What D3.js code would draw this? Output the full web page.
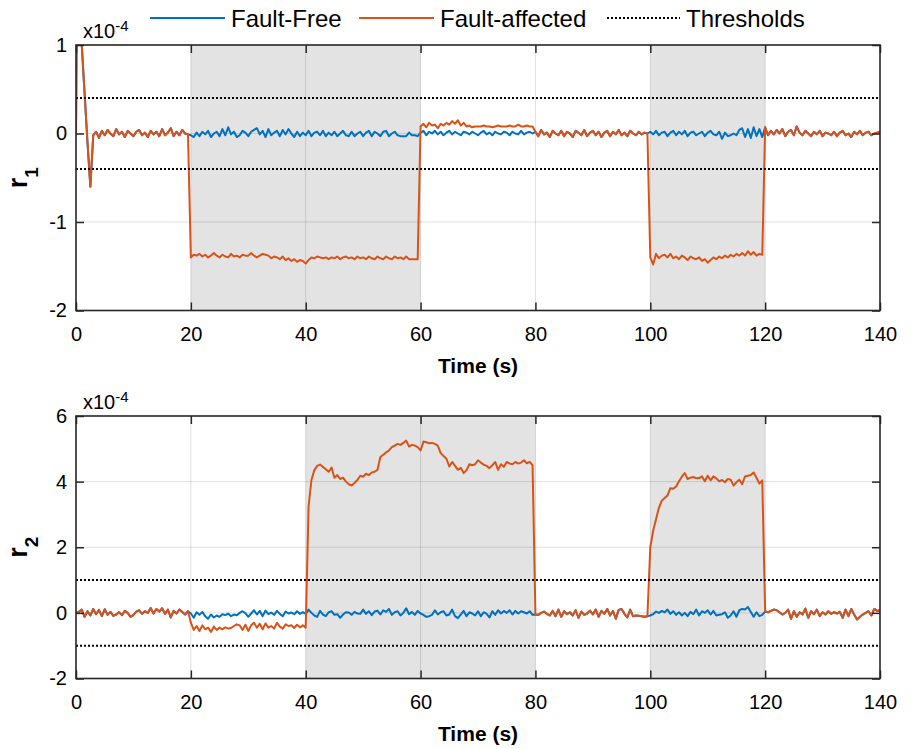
<!DOCTYPE html>
<html lang="en">

<head>
    <meta charset="utf-8">
    <script src='https://d3js.org/d3.v7.min.js'></script>
    <style>
        body { margin: 0; background: #fff; }
        text { font-family: "Liberation Sans", Arial, sans-serif; fill: #000; }
    </style>
</head>

<body>
    <script>
        // sample times, 0 .. 140 s every 0.5 s
        const time = d3.range(0, 281).map(i => i * 0.5);

        // residual r1, units of 1e-4
        const r1Free = [
            0, 5.0, 1.0, 0.45, -0.1, -0.6, -0.02, 0.02, -0.05, 0.03,
            -0.02, 0.04, 0.00, -0.03, 0.05, -0.01, 0.02, -0.04, 0.03, 0.00,
            -0.03, 0.02, 0.04, -0.02, 0.01, -0.04, 0.03, -0.01, 0.02, -0.03,
            0.05, -0.02, 0.01, 0.06, -0.03, 0.02, -0.02, 0.04, 0.00, -0.01,
            -0.02, -0.04, 0.01, -0.03, 0.02, -0.01, 0.03, -0.04, 0.00, 0.02,
            -0.03, 0.05, -0.02, 0.07, -0.01, 0.02, -0.04, -0.02, 0.03, 0.01,
            -0.03, 0.02, 0.04, 0.06, -0.01, 0.03, -0.04, 0.05, -0.02, 0.01,
            0.03, -0.03, 0.04, -0.01, 0.05, 0.00, -0.04, 0.02, -0.03, 0.01,
            -0.02, 0.03, -0.03, 0.01, 0.02, -0.02, 0.03, -0.03, 0.01, -0.02,
            0.02, -0.03, 0.00, 0.03, -0.02, -0.03, 0.02, -0.03, 0.00, 0.02,
            -0.03, 0.01, 0.03, -0.03, 0.02, 0.00, -0.03, 0.02, 0.03, -0.03,
            0.00, 0.02, -0.02, -0.03, -0.03, -0.03, 0.01, -0.02, -0.02, -0.03,
            0.01, 0.03, -0.02, 0.02, 0.00, 0.03, -0.01, 0.02, -0.02, 0.01,
            0.03, -0.01, 0.02, 0.00, -0.02, 0.02, 0.01, -0.01, 0.02, 0.00,
            -0.02, 0.01, 0.03, -0.01, 0.01, -0.02, 0.02, 0.00, -0.01, 0.02,
            0.01, -0.02, 0.02, 0.00, -0.01, 0.03, -0.01, 0.01, 0.02, 0.00,
            0.02, -0.03, 0.04, -0.01, 0.01, -0.04, 0.03, 0.00, -0.02, 0.03,
            -0.03, 0.02, 0.00, -0.04, 0.03, 0.01, -0.02, 0.04, -0.03, 0.01,
            0.03, -0.02, 0.02, -0.04, 0.01, 0.03, -0.03, 0.02, -0.01, 0.04,
            -0.02, 0.01, -0.03, 0.03, 0.00, -0.02, 0.02, -0.01, 0.01, 0.00,
            0.02, -0.01, 0.03, -0.02, 0.01, 0.02, -0.03, 0.01, 0.03, -0.02,
            0.02, -0.01, 0.03, -0.03, 0.01, 0.02, -0.02, 0.00, 0.02, -0.03,
            0.01, 0.03, -0.01, -0.02, 0.02, -0.06, 0.01, -0.03, -0.02, 0.00,
            -0.02, 0.04, 0.06, -0.04, 0.05, -0.05, 0.07, -0.03, 0.05, -0.04,
            0.07, -0.02, 0.03, -0.01, 0.04, 0.00, 0.05, -0.03, 0.02, 0.04,
            -0.02, 0.08, 0.01, -0.02, 0.03, 0.00, -0.03, 0.02, -0.01, 0.03,
            -0.03, 0.01, 0.00, -0.02, 0.02, -0.03, 0.01, 0.03, -0.02, 0.00,
            -0.04, 0.02, -0.01, 0.03, -0.02, 0.01, 0.02, -0.02, 0.00, 0.01, 0.02
        ];
        const r1Fault = [
            0, 5.0, 1.0, 0.45, -0.1, -0.6, -0.02, 0.02, -0.05, 0.03,
            -0.02, 0.04, 0.00, -0.03, 0.05, -0.01, 0.02, -0.04, 0.03, 0.00,
            -0.03, 0.02, 0.04, -0.02, 0.01, -0.04, 0.03, -0.01, 0.02, -0.03,
            0.05, -0.02, 0.01, 0.06, -0.03, 0.02, -0.02, 0.04, 0.00, -0.01,
            -1.40, -1.37, -1.38, -1.36, -1.39, -1.37, -1.40, -1.38, -1.35, -1.38,
            -1.40, -1.37, -1.39, -1.40, -1.36, -1.39, -1.38, -1.40, -1.37, -1.38,
            -1.38, -1.35, -1.38, -1.40, -1.38, -1.36, -1.37, -1.38, -1.41, -1.39,
            -1.40, -1.42, -1.39, -1.43, -1.41, -1.44, -1.42, -1.45, -1.43, -1.44,
            -1.47, -1.43, -1.40, -1.41, -1.39, -1.40, -1.41, -1.40, -1.42, -1.40,
            -1.41, -1.39, -1.42, -1.40, -1.39, -1.41, -1.40, -1.42, -1.39, -1.41,
            -1.40, -1.42, -1.39, -1.41, -1.42, -1.39, -1.41, -1.42, -1.39, -1.41,
            -1.42, -1.39, -1.41, -1.40, -1.42, -1.39, -1.42, -1.42, -1.42, -1.42,
            0.08, 0.11, 0.07, 0.12, 0.09, 0.10, 0.06, 0.11, 0.09, 0.12,
            0.10, 0.14, 0.11, 0.15, 0.09, 0.12, 0.08, 0.09, 0.07, 0.08,
            0.08, 0.08, 0.09, 0.08, 0.08, 0.07, 0.08, 0.09, 0.08, 0.08,
            0.08, 0.09, 0.08, 0.08, 0.10, 0.08, 0.08, 0.09, 0.08, 0.08,
            0.02, -0.03, 0.04, -0.01, 0.01, -0.04, 0.03, 0.00, -0.02, 0.03,
            -0.03, 0.02, 0.00, -0.04, 0.03, 0.01, -0.02, 0.04, -0.03, 0.01,
            0.03, -0.02, 0.02, -0.04, 0.01, 0.03, -0.03, 0.02, -0.01, 0.04,
            -0.02, 0.01, -0.03, 0.03, 0.00, -0.02, 0.02, -0.01, 0.01, 0.00,
            -1.40, -1.48, -1.36, -1.41, -1.38, -1.37, -1.40, -1.36, -1.41, -1.39,
            -1.42, -1.38, -1.40, -1.43, -1.39, -1.41, -1.42, -1.40, -1.44, -1.42,
            -1.46, -1.43, -1.40, -1.42, -1.39, -1.41, -1.38, -1.40, -1.37, -1.39,
            -1.36, -1.38, -1.35, -1.38, -1.33, -1.37, -1.34, -1.38, -1.36, -1.37,
            0.07, -0.02, 0.03, -0.01, 0.04, 0.00, 0.05, -0.03, 0.02, 0.04,
            -0.02, 0.08, 0.01, -0.02, 0.03, 0.00, -0.03, 0.02, -0.01, 0.03,
            -0.03, 0.01, 0.00, -0.02, 0.02, -0.03, 0.01, 0.03, -0.02, 0.00,
            -0.04, 0.02, -0.01, 0.03, -0.02, 0.01, 0.02, -0.02, 0.00, 0.01, 0.02
        ];

        // residual r2, units of 1e-4
        const r2Free = [
            0.00, 0.03, 0.10, -0.12, 0.05, -0.08, 0.12, -0.04, 0.09, -0.10,
            0.11, -0.06, 0.03, -0.09, -0.05, 0.02, -0.07, 0.06, 0.00, -0.12,
            -0.06, 0.04, 0.08, -0.03, 0.05, 0.00, 0.15, -0.02, 0.12, 0.04,
            0.14, -0.03, 0.10, -0.14, 0.06, -0.02, 0.10, 0.03, -0.05, 0.05,
            -0.02, -0.15, 0.02, -0.06, 0.03, -0.10, -0.18, -0.05, -0.14, -0.08,
            -0.12, -0.04, -0.07, -0.02, -0.10, -0.05, -0.07, 0.00, 0.05, -0.01,
            -0.12, -0.02, 0.08, -0.05, 0.06, -0.10, 0.07, -0.04, 0.01, -0.06,
            0.06, -0.03, -0.10, 0.04, -0.02, 0.01, -0.04, 0.05, -0.03, 0.02,
            -0.03, 0.10, 0.00, -0.08, -0.12, 0.06, -0.05, -0.10, 0.02, 0.05,
            -0.06, -0.04, -0.15, -0.05, 0.02, 0.01, -0.06, 0.03, -0.02, -0.03,
            0.10, -0.03, 0.05, -0.07, 0.04, 0.07, -0.05, 0.08, 0.03, 0.12,
            -0.06, 0.02, 0.05, -0.08, 0.00, 0.14, -0.04, 0.03, -0.06, 0.06,
            -0.02, -0.06, -0.12, -0.10, -0.06, 0.08, -0.05, 0.02, 0.05, -0.08,
            -0.05, 0.10, -0.10, -0.16, -0.05, 0.06, -0.10, 0.02, -0.02, -0.08,
            0.05, -0.10, 0.02, -0.03, -0.14, 0.05, -0.06, 0.08, -0.02, 0.06,
            0.00, 0.08, -0.05, 0.06, -0.02, 0.05, 0.02, -0.02, 0.05, -0.06,
            -0.05, -0.06, 0.00, 0.04, -0.03, -0.08, 0.06, -0.10, 0.10, -0.12,
            0.05, -0.04, 0.02, -0.08, 0.08, -0.15, 0.04, -0.06, -0.02, 0.07,
            -0.05, 0.10, -0.12, 0.06, -0.03, 0.12, -0.08, 0.06, -0.18, 0.09,
            0.12, -0.03, -0.14, 0.10, -0.10, -0.08, -0.09, -0.10, -0.12, -0.10,
            -0.08, -0.04, 0.04, 0.00, 0.06, 0.02, 0.10, -0.03, 0.05, -0.06,
            0.02, -0.08, 0.00, -0.10, 0.03, -0.04, 0.10, -0.08, 0.05, 0.00,
            0.08, -0.05, 0.06, -0.08, -0.06, -0.04, 0.02, -0.15, -0.08, 0.05,
            -0.12, 0.08, 0.12, 0.10, 0.18, 0.03, -0.12, 0.02, -0.10, -0.06,
            0.04, 0.02, 0.06, 0.10, 0.08, 0.02, -0.05, 0.00, 0.10, -0.18,
            0.05, -0.12, 0.02, -0.05, 0.13, -0.15, 0.05, -0.04, 0.10, -0.10,
            0.02, -0.05, 0.05, -0.03, 0.02, -0.02, 0.03, -0.15, 0.10, -0.10,
            0.12, -0.05, -0.20, -0.12, -0.05, 0.00, 0.05, -0.08, 0.12, 0.06, 0.08
        ];
        const r2Fault = [
            0.00, 0.03, 0.10, -0.12, 0.05, -0.08, 0.12, -0.04, 0.09, -0.10,
            0.11, -0.06, 0.03, -0.09, -0.05, 0.02, -0.07, 0.06, 0.00, -0.12,
            -0.06, 0.04, 0.08, -0.03, 0.05, 0.00, 0.15, -0.02, 0.12, 0.04,
            0.14, -0.03, 0.10, -0.14, 0.06, -0.02, 0.10, 0.03, -0.05, 0.05,
            -0.30, -0.52, -0.40, -0.55, -0.38, -0.50, -0.45, -0.58, -0.42, -0.52,
            -0.45, -0.50, -0.44, -0.48, -0.46, -0.40, -0.35, -0.38, -0.52, -0.36,
            -0.55, -0.38, -0.30, -0.45, -0.33, -0.50, -0.32, -0.45, -0.40, -0.48,
            -0.30, -0.42, -0.48, -0.35, -0.40, -0.38, -0.46, -0.36, -0.44, -0.38,
            -0.45, 3.25, 4.05, 4.35, 4.48, 4.52, 4.45, 4.38, 4.30, 4.43,
            4.12, 4.20, 4.08, 4.12, 4.00, 3.92, 3.88, 3.96, 4.05, 4.18,
            4.15, 4.24, 4.20, 4.28, 4.30, 4.36, 4.75, 4.82, 4.89, 4.95,
            5.05, 5.10, 5.15, 5.12, 5.18, 5.25, 5.07, 5.12, 5.10, 5.05,
            4.95, 5.22, 5.20, 5.17, 5.18, 5.15, 5.10, 4.87, 4.78, 4.70,
            4.46, 4.60, 4.48, 4.36, 4.42, 4.26, 4.35, 4.53, 4.50, 4.53,
            4.65, 4.58, 4.52, 4.48, 4.41, 4.50, 4.60, 4.36, 4.53, 4.45,
            4.60, 4.55, 4.53, 4.60, 4.55, 4.58, 4.65, 4.56, 4.60, 4.50,
            -0.05, -0.06, 0.00, 0.04, -0.03, -0.08, 0.06, -0.10, 0.10, -0.12,
            0.05, -0.04, 0.02, -0.08, 0.08, -0.15, 0.04, -0.06, -0.02, 0.07,
            -0.05, 0.10, -0.12, 0.06, -0.03, 0.12, -0.08, 0.06, -0.18, 0.09,
            0.12, -0.03, -0.14, 0.10, -0.10, -0.08, -0.09, -0.10, -0.12, -0.10,
            2.00, 2.50, 2.85, 3.20, 3.42, 3.50, 3.58, 3.80, 3.78, 3.85,
            4.01, 4.15, 4.26, 4.08, 4.12, 4.14, 4.10, 4.11, 4.16, 4.01,
            4.18, 4.04, 4.16, 4.10, 4.01, 4.05, 3.98, 4.08, 4.06, 3.88,
            3.98, 4.06, 3.92, 4.16, 4.18, 4.20, 4.28, 4.12, 3.94, 4.04,
            0.04, 0.02, 0.06, 0.10, 0.08, 0.02, -0.05, 0.00, 0.10, -0.18,
            0.05, -0.12, 0.02, -0.05, 0.13, -0.15, 0.05, -0.04, 0.10, -0.10,
            0.02, -0.05, 0.05, -0.03, 0.02, -0.02, 0.03, -0.15, 0.10, -0.10,
            0.12, -0.05, -0.20, -0.12, -0.05, 0.00, 0.05, -0.08, 0.12, 0.06, 0.08
        ];

        // fault windows (s), thresholds and ticks
        const r1Windows = [[20, 60], [100, 120]];
        const r2Windows = [[40, 80], [100, 120]];
        const r1Threshold = 0.4;
        const r2Threshold = 1;
        const xTicks = [0, 20, 40, 60, 80, 100, 120, 140];
        const r1Ticks = [-2, -1, 0, 1];
        const r2Ticks = [-2, 0, 2, 4, 6];
        const legendLabels = ["Fault-Free", "Fault-affected", "Thresholds"];

        const blue = "#0072BD";
        const orange = "#D95319";
        const axisColor = "#262626";

        const svg = d3.select("body")
            .append("svg")
            .attr("width", 911)
            .attr("height", 749);

        const left = 76, right = 880;
        // plain hyphen for negative numbers, like the original figure
        const fmt = d => String(d);

        function drawPanel(id, top, bottom, yTicks, windows, thr, free, fault, sub) {
            const x = d3.scaleLinear().domain([0, 140]).range([left, right]);
            const y = d3.scaleLinear().domain([yTicks[0], yTicks[yTicks.length - 1]]).range([bottom, top]);

            svg.append("clipPath").attr("id", id)
                .append("rect")
                .attr("x", left).attr("y", top)
                .attr("width", right - left).attr("height", bottom - top);

            const g = svg.append("g");

            // shaded fault windows
            g.selectAll(".win")
                .data(windows)
                .enter()
                .append("rect")
                .attr("x", d => x(d[0]))
                .attr("width", d => x(d[1]) - x(d[0]))
                .attr("y", top)
                .attr("height", bottom - top)
                .attr("fill", "#e3e3e3");

            // grid
            g.selectAll(".gx")
                .data(xTicks.slice(1, -1))
                .enter()
                .append("line")
                .attr("x1", d => x(d)).attr("x2", d => x(d))
                .attr("y1", top).attr("y2", bottom)
                .attr("stroke", axisColor).attr("stroke-opacity", 0.15).attr("stroke-width", 1);
            g.selectAll(".gy")
                .data(yTicks.slice(1, -1))
                .enter()
                .append("line")
                .attr("x1", left).attr("x2", right)
                .attr("y1", d => y(d)).attr("y2", d => y(d))
                .attr("stroke", axisColor).attr("stroke-opacity", 0.15).attr("stroke-width", 1);

            const line = d3.line()
                .x((d, i) => x(time[i]))
                .y(d => y(d));

            const plot = g.append("g").attr("clip-path", "url(#" + id + ")");
            plot.append("path")
                .datum(free)
                .attr("fill", "none")
                .attr("stroke", blue)
                .attr("stroke-width", 2)
                .attr("stroke-linejoin", "round")
                .attr("d", line);
            plot.append("path")
                .datum(fault)
                .attr("fill", "none")
                .attr("stroke", orange)
                .attr("stroke-width", 2)
                .attr("stroke-linejoin", "round")
                .attr("d", line);

            // thresholds
            plot.selectAll(".thr")
                .data([thr, -thr])
                .enter()
                .append("line")
                .attr("x1", left).attr("x2", right)
                .attr("y1", d => y(d)).attr("y2", d => y(d))
                .attr("stroke", "#000")
                .attr("stroke-width", 2)
                .attr("stroke-dasharray", "2,2");

            // axes, ticks pointing inwards on every side
            const tickFont = g => g.selectAll("text")
                .style("font-size", "20px")
                .style("font-family", '"Liberation Sans", Arial, sans-serif')
                .attr("fill", "#000");
            g.append("g")
                .attr("transform", "translate(0," + bottom + ")")
                .call(d3.axisBottom(x).tickValues(xTicks).tickFormat(fmt).tickSize(-8).tickPadding(16))
                .call(tickFont);
            g.append("g")
                .attr("transform", "translate(0," + top + ")")
                .call(d3.axisTop(x).tickValues(xTicks).tickSize(-8).tickFormat(""));
            g.append("g")
                .attr("transform", "translate(" + left + ",0)")
                .call(d3.axisLeft(y).tickValues(yTicks).tickFormat(fmt).tickSize(-8).tickPadding(9))
                .call(tickFont);
            g.append("g")
                .attr("transform", "translate(" + right + ",0)")
                .call(d3.axisRight(y).tickValues(yTicks).tickSize(-8).tickFormat(""));
            g.selectAll(".domain").remove();
            g.selectAll(".tick line").attr("stroke", axisColor).attr("stroke-width", 1.5);

            g.append("rect")
                .attr("x", left).attr("y", top)
                .attr("width", right - left).attr("height", bottom - top)
                .attr("fill", "none")
                .attr("stroke", axisColor)
                .attr("stroke-width", 1.6);

            // exponent label
            const ex = g.append("text")
                .attr("x", 83)
                .attr("y", top - 7)
                .style("font-size", "20px")
                .text("x10");
            ex.append("tspan")
                .attr("dy", -7)
                .style("font-size", "15px")
                .text("-4");

            // x label
            g.append("text")
                .attr("x", (left + right) / 2)
                .attr("y", bottom + 62)
                .attr("text-anchor", "middle")
                .style("font-size", "21px")
                .style("font-weight", "bold")
                .text("Time (s)");

            // y label
            const yl = g.append("text")
                .attr("transform", "translate(27," + (top + bottom) / 2 + ") rotate(-90)")
                .attr("text-anchor", "middle")
                .style("font-size", "27px")
                .style("font-weight", "bold")
                .text("r");
            yl.append("tspan")
                .attr("dy", 11)
                .style("font-size", "19px")
                .text(sub);
        }

        drawPanel("clip1", 45, 310.5, r1Ticks, r1Windows, r1Threshold, r1Free, r1Fault, "1");
        drawPanel("clip2", 416, 678.5, r2Ticks, r2Windows, r2Threshold, r2Free, r2Fault, "2");

        // legend
        const legend = svg.append("g");
        const items = [
            { x1: 150, x2: 225, tx: 231, color: blue, dash: null },
            { x1: 359, x2: 434, tx: 440, color: orange, dash: null },
            { x1: 607, x2: 680, tx: 686, color: "#000", dash: "2,2" }
        ];
        items.forEach((it, i) => {
            legend.append("line")
                .attr("x1", it.x1).attr("x2", it.x2)
                .attr("y1", 18).attr("y2", 18)
                .attr("stroke", it.color)
                .attr("stroke-width", 2)
                .attr("stroke-dasharray", it.dash);
            legend.append("text")
                .attr("x", it.tx)
                .attr("y", 27)
                .style("font-size", "24px")
                .text(legendLabels[i]);
        });
    </script>

</body>

</html>
